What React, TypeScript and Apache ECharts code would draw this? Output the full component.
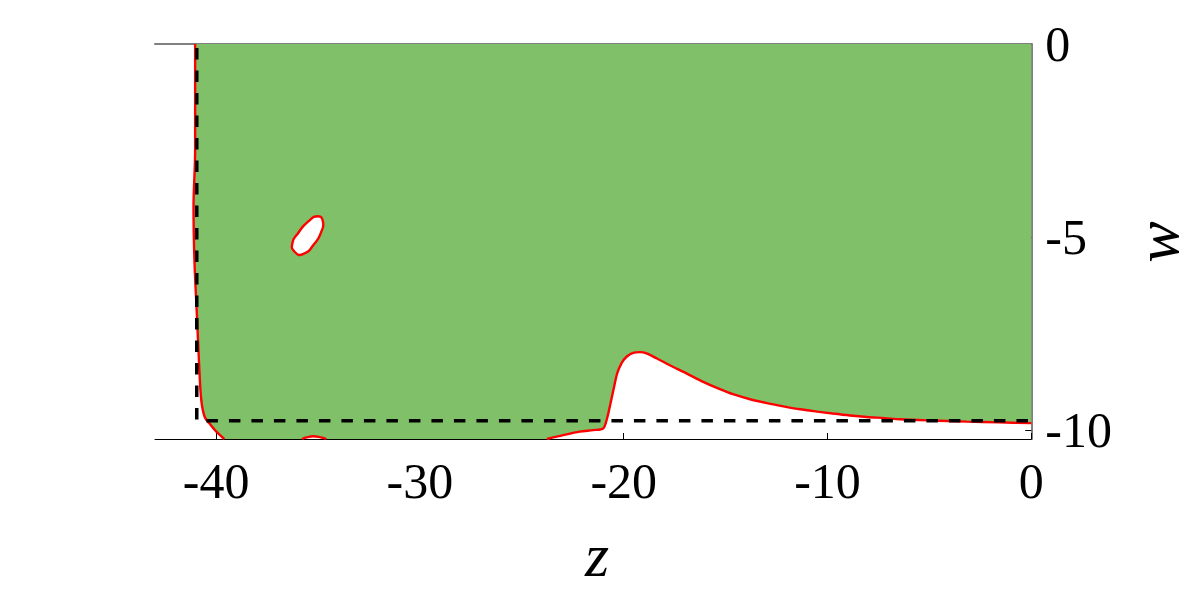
import React, { useEffect, useRef } from "react";
import * as echarts from "echarts";

// Axis ranges and ticks
const Z_MIN = -43;
const Z_MAX = 0;
const W_MIN = -10.23;
const W_MAX = 0;
const Z_TICKS = [-40, -30, -20, -10, 0];
const W_TICKS = [-10, -5, 0];

// Left red boundary of the green (stable) region, top to bottom: [z, w]
const leftBoundary: [number, number][] = [
  [-41.03, 0],
  [-41.03, -2.75],
  [-41.11, -4.22],
  [-41.06, -5.68],
  [-40.94, -7.06],
  [-40.83, -8.36],
  [-40.73, -9.22],
  [-40.56, -9.66],
  [-40.32, -9.83],
  [-39.99, -10.04],
  [-39.6, -10.23],
];

// Small red arc on the bottom edge
const bottomArc: [number, number][] = [
  [-35.79, -10.23],
  [-35.51, -10.18],
  [-35.25, -10.16],
  [-34.92, -10.18],
  [-34.59, -10.23],
];

// Red boundary of the white bump near the bottom (left to right)
const bumpBoundary: [number, number][] = [
  [-23.77, -10.23],
  [-22.97, -10.13],
  [-22.16, -10.04],
  [-21.5, -10.0],
  [-21.01, -9.96],
  [-20.82, -9.7],
  [-20.65, -9.31],
  [-20.49, -8.92],
  [-20.32, -8.53],
  [-20.11, -8.27],
  [-19.86, -8.1],
  [-19.54, -8.0],
  [-19.21, -7.98],
  [-18.88, -8.01],
  [-18.39, -8.14],
  [-17.74, -8.32],
  [-16.92, -8.53],
  [-16.1, -8.75],
  [-15.28, -8.94],
  [-14.64, -9.07],
  [-13.8, -9.2],
  [-12.97, -9.3],
  [-12.1, -9.39],
  [-11.35, -9.46],
  [-10.5, -9.52],
  [-9.74, -9.57],
  [-8.9, -9.62],
  [-8.07, -9.66],
  [-7.2, -9.69],
  [-6.45, -9.72],
  [-5.0, -9.75],
  [-3.16, -9.78],
  [-1.6, -9.8],
  [0, -9.82],
];

// Closed red contour of the small white hole
const holeContour: [number, number][] = [
  [-35.0, -4.46],
  [-34.76, -4.6],
  [-34.84, -4.86],
  [-35.16, -5.16],
  [-35.74, -5.44],
  [-36.15, -5.38],
  [-36.26, -5.16],
  [-35.98, -4.9],
  [-35.49, -4.6],
];

// Black dashed reference line
const dashedLine: [number, number][] = [
  [-40.95, 0],
  [-40.95, -9.76],
  [0, -9.76],
];

const GREEN = "#80c068";
const RED = "#ff0000";
const SERIF = '"Liberation Serif", "DejaVu Serif", serif';

export default function App() {
  const ref = useRef<HTMLDivElement>(null);

  useEffect(() => {
    if (!ref.current) return;
    const chart = echarts.init(ref.current, undefined, { renderer: "svg" });

    const greenOutline: [number, number][] = [
      [Z_MAX, W_MAX],
      ...leftBoundary,
      ...bottomArc,
      ...bumpBoundary,
      [Z_MAX, W_MAX],
    ];

    const option: any = {
      animation: false,
      backgroundColor: "#ffffff",
      grid: { left: 155, right: 164.7, top: 44, bottom: 154, containLabel: false },
      xAxis: [
        {
          type: "value",
          min: Z_MIN,
          max: Z_MAX,
          position: "bottom",
          axisLine: { show: true, onZero: false, lineStyle: { color: "#000", width: 1 } },
          axisTick: {
            show: true,
            inside: true,
            length: 6,
            customValues: Z_TICKS,
            lineStyle: { color: "#000", width: 1 },
          },
          axisLabel: {
            customValues: Z_TICKS,
            margin: 17,
            fontSize: 50,
            fontFamily: SERIF,
            color: "#000",
          },
          splitLine: { show: false },
        },
        {
          type: "value",
          min: Z_MIN,
          max: Z_MAX,
          position: "top",
          axisLine: { show: true, onZero: false, lineStyle: { color: "#808080", width: 2 } },
          axisTick: { show: false },
          axisLabel: { show: false },
          splitLine: { show: false },
        },
      ],
      yAxis: {
        type: "value",
        min: W_MIN,
        max: W_MAX,
        position: "right",
        axisLine: { show: true, onZero: false, lineStyle: { color: "#808080", width: 2 } },
        axisTick: {
          show: true,
          inside: true,
          length: 6,
          customValues: W_TICKS,
          lineStyle: { color: "#000", width: 1 },
        },
        axisLabel: {
          customValues: W_TICKS,
          margin: 14,
          fontSize: 50,
          fontFamily: SERIF,
          color: "#000",
        },
        splitLine: { show: false },
      },
      graphic: [
        {
          type: "text",
          x: 597,
          y: 555,
          style: {
            text: "z",
            font: `italic 62px ${SERIF}`,
            fill: "#000",
            align: "center",
            verticalAlign: "middle",
          },
        },
        {
          type: "text",
          x: 1157,
          y: 242,
          rotation: Math.PI / 2,
          style: {
            text: "w",
            font: `italic 62px ${SERIF}`,
            fill: "#000",
            align: "center",
            verticalAlign: "middle",
          },
        },
      ],
      series: [
        {
          type: "custom",
          coordinateSystem: "cartesian2d",
          xAxisIndex: 0,
          yAxisIndex: 0,
          silent: true,
          clip: true,
          z: 2,
          data: [[Z_MAX, W_MAX]],
          renderItem: (_params: any, api: any) => ({
            type: "polygon",
            shape: { points: greenOutline.map((p) => api.coord(p)) },
            style: { fill: GREEN, stroke: null },
          }),
        },
        {
          type: "custom",
          coordinateSystem: "cartesian2d",
          xAxisIndex: 0,
          yAxisIndex: 0,
          silent: true,
          z: 3,
          data: [[Z_MAX, W_MAX]],
          renderItem: (_params: any, api: any) => ({
            type: "polygon",
            shape: { points: holeContour.map((p) => api.coord(p)), smooth: 0.6 },
            style: { fill: "#ffffff", stroke: RED, lineWidth: 2.4 },
          }),
        },
        {
          type: "line",
          data: leftBoundary,
          showSymbol: false,
          silent: true,
          z: 3,
          smooth: 0.3,
          lineStyle: { color: RED, width: 2.4 },
        },
        {
          type: "line",
          data: bottomArc,
          showSymbol: false,
          silent: true,
          z: 3,
          smooth: 0.5,
          lineStyle: { color: RED, width: 2.4 },
        },
        {
          type: "line",
          data: bumpBoundary,
          showSymbol: false,
          silent: true,
          z: 3,
          smooth: 0.3,
          lineStyle: { color: RED, width: 2.4 },
        },
        {
          type: "line",
          data: dashedLine,
          showSymbol: false,
          silent: true,
          z: 4,
          lineStyle: { color: "#000", width: 3.5, type: [11.5, 11], dashOffset: -4 },
        },
      ],
    };

    chart.setOption(option);
    return () => {
      chart.dispose();
    };
  }, []);

  return (
    <div
      ref={ref}
      style={{ position: "fixed", left: 0, top: 0, width: 1196, height: 593, background: "#fff" }}
    />
  );
}
